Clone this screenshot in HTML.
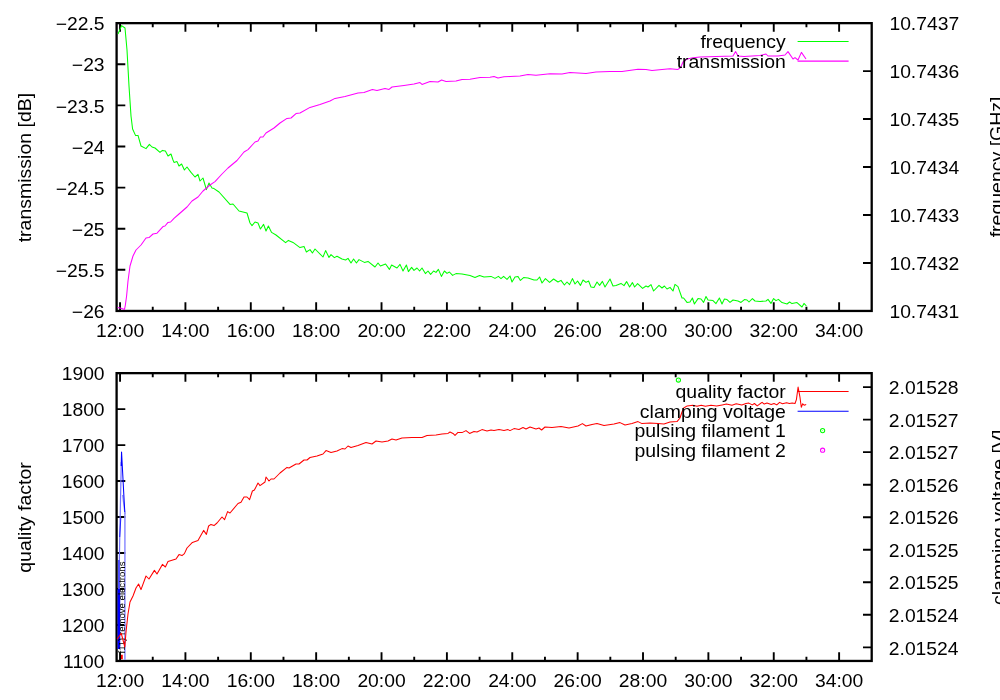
<!DOCTYPE html>
<html lang="en"><head><meta charset="utf-8"><title>resonator conditioning</title>
<style>html,body{margin:0;padding:0;background:#fff;}body{width:1000px;height:700px;overflow:hidden;}svg{display:block;will-change:transform;}text{font-family:"Liberation Sans", sans-serif;font-size:17.9px;fill:#000;}.b{fill:none;stroke:#000;stroke-width:2.30;stroke-linejoin:miter;}.t{stroke:#000;stroke-width:1.90;fill:none;}.d{fill:none;stroke-width:1.05;stroke-linejoin:round;stroke-linecap:butt;}.e{text-anchor:end;}.m{text-anchor:middle;}.r{font-size:19.5px;text-anchor:middle;}</style></head><body>
<svg width="1000" height="700" viewBox="0 0 1000 700">
<rect width="1000" height="700" fill="#fff"/>
<path class="t" d="M120.05,310.9v-8.7M120.05,23.15v8.7M185.42,310.9v-8.7M185.42,23.15v8.7M250.79,310.9v-8.7M250.79,23.15v8.7M316.16,310.9v-8.7M316.16,23.15v8.7M381.53,310.9v-8.7M381.53,23.15v8.7M446.90,310.9v-8.7M446.90,23.15v8.7M512.27,310.9v-8.7M512.27,23.15v8.7M577.64,310.9v-8.7M577.64,23.15v8.7M643.01,310.9v-8.7M643.01,23.15v8.7M708.38,310.9v-8.7M708.38,23.15v8.7M773.75,310.9v-8.7M773.75,23.15v8.7M839.12,310.9v-8.7M839.12,23.15v8.7M152.74,310.9v-4.2M152.74,23.15v4.2M218.11,310.9v-4.2M218.11,23.15v4.2M283.48,310.9v-4.2M283.48,23.15v4.2M348.85,310.9v-4.2M348.85,23.15v4.2M414.22,310.9v-4.2M414.22,23.15v4.2M479.59,310.9v-4.2M479.59,23.15v4.2M544.96,310.9v-4.2M544.96,23.15v4.2M610.33,310.9v-4.2M610.33,23.15v4.2M675.69,310.9v-4.2M675.69,23.15v4.2M741.07,310.9v-4.2M741.07,23.15v4.2M806.43,310.9v-4.2M806.43,23.15v4.2M116.6,23.15h8.7M116.6,64.26h8.7M116.6,105.36h8.7M116.6,146.47h8.7M116.6,187.58h8.7M116.6,228.69h8.7M116.6,269.79h8.7M116.6,310.90h8.7M871.7,23.15h-8.7M871.7,71.11h-8.7M871.7,119.07h-8.7M871.7,167.03h-8.7M871.7,214.98h-8.7M871.7,262.94h-8.7M871.7,310.90h-8.7"/>
<rect class="b" x="116.6" y="23.15" width="755.1" height="287.8"/>
<polyline class="d" stroke="#00ff00" points="118.0,34.0 121.6,25.6 125.0,28.0 127.0,50.0 129.0,86.0 131.0,116.0 132.6,129.0 135.6,135.6 138.0,135.4 141.0,146.0 146.0,148.6 149.4,144.4 152.0,147.0 155.0,148.0 160.0,152.4 162.4,150.4 165.4,151.0 168.0,156.0 171.0,154.0 173.0,160.0 174.0,162.4 177.0,161.6 179.0,166.0 181.6,164.0 184.4,170.0 187.0,167.0 191.0,172.4 195.0,177.0 198.0,174.4 200.0,181.0 203.0,178.0 206.4,189.6 209.0,183.0 212.0,188.0 214.0,188.6 219.0,192.0 230.0,204.4 233.0,204.0 239.0,211.0 247.0,213.0 250.0,223.0 252.0,225.6 255.0,222.0 258.0,223.0 260.4,229.0 263.6,224.4 266.0,231.0 268.4,226.0 271.6,232.4 276.0,235.0 285.6,242.6 288.4,240.4 293.0,242.4 300.0,247.6 304.0,246.4 306.4,252.0 310.0,249.6 312.4,253.0 315.0,249.0 323.0,257.0 325.6,250.6 329.0,257.4 331.0,254.6 334.4,257.6 337.0,256.2 342.0,259.0 345.6,260.0 348.0,258.4 351.0,263.0 353.6,259.0 356.4,263.0 359.0,259.6 364.4,262.4 368.0,261.4 375.0,267.0 378.0,263.0 380.4,266.0 385.6,264.0 389.4,269.4 391.6,265.0 397.0,268.0 400.0,264.4 403.0,271.0 406.4,265.0 408.4,271.6 411.6,267.4 414.0,270.4 417.0,268.0 419.6,271.0 422.0,268.0 425.4,273.6 428.0,271.0 430.6,274.4 433.6,271.0 436.0,272.4 438.4,269.4 441.4,276.4 444.4,271.0 447.0,273.4 449.4,272.0 452.6,275.4 456.0,273.6 462.0,274.0 470.0,275.6 475.0,277.6 479.6,275.6 484.0,277.0 491.0,276.4 495.0,278.4 498.4,276.4 501.0,278.6 503.6,276.4 507.0,279.4 510.0,276.0 512.0,282.0 515.0,277.0 518.0,276.4 520.4,280.4 523.6,277.6 528.0,278.0 534.0,280.0 537.0,280.0 539.6,277.0 542.0,283.0 545.4,278.6 549.6,282.4 553.6,279.0 558.0,282.0 561.0,280.4 564.4,285.0 567.0,282.0 569.6,284.6 572.4,278.6 575.0,284.0 577.6,281.0 580.4,285.4 583.0,280.0 586.0,282.4 588.6,281.0 591.0,287.0 594.0,287.4 597.0,282.0 599.6,285.4 602.4,281.4 605.0,287.0 610.0,279.0 613.0,286.0 616.0,285.6 621.0,283.4 624.0,285.6 626.6,281.6 629.6,287.0 632.4,282.6 634.6,287.0 637.6,283.6 642.6,288.4 646.0,286.0 648.0,287.0 651.0,284.6 653.6,291.0 659.0,285.4 662.0,288.0 664.4,286.0 667.0,289.0 670.0,287.4 673.0,291.0 675.0,284.4 678.0,286.6 682.0,298.0 683.6,298.0 687.0,302.4 690.0,302.0 692.4,298.0 694.4,304.0 698.0,298.6 701.0,299.0 703.6,302.4 706.0,296.5 708.0,300.0 713.0,300.6 716.0,303.6 719.4,298.0 722.0,304.0 724.4,299.0 727.0,299.6 730.0,302.4 733.0,300.0 738.0,301.0 741.0,302.4 744.4,299.6 747.0,300.0 749.0,302.0 752.4,298.6 755.0,301.0 760.0,301.4 766.0,301.0 768.0,299.4 771.0,303.4 773.6,298.6 776.0,300.6 778.4,299.4 782.0,302.6 787.0,304.0 789.6,302.0 792.0,303.6 797.0,302.6 802.0,307.0 804.0,303.4 806.4,306.0"/>
<polyline class="d" stroke="#ff00ff" points="117.6,307.4 121.0,308.3 124.5,309.4 125.3,305.5 126.6,296.0 128.0,281.0 130.0,266.0 133.0,256.0 136.0,250.0 141.0,245.0 146.0,238.0 149.0,237.6 153.0,234.0 157.0,233.2 163.0,226.6 165.0,226.0 168.0,222.4 170.6,222.0 174.0,218.4 179.0,214.0 187.0,207.0 192.0,201.0 198.0,197.0 203.0,191.0 210.0,185.0 215.0,181.6 222.0,174.0 228.0,168.0 237.0,160.5 244.0,152.0 248.0,149.6 255.0,142.0 258.0,141.0 260.4,137.0 263.0,137.0 266.0,133.0 274.0,128.0 280.0,123.0 287.0,118.4 291.0,118.0 296.0,113.6 300.0,113.0 310.0,107.4 320.0,104.4 330.0,101.0 335.0,98.4 345.0,96.4 358.0,93.0 364.0,92.4 372.4,89.6 377.0,90.6 385.0,88.6 389.0,89.4 392.0,87.0 404.0,85.4 414.0,84.0 420.0,82.6 422.0,84.4 430.0,81.4 438.0,82.0 441.6,80.0 446.0,81.4 456.0,81.0 462.0,79.4 470.0,79.2 480.0,77.4 490.0,77.2 494.0,76.4 498.0,78.0 504.0,76.8 510.0,76.5 520.0,76.0 528.0,74.4 536.0,75.2 550.0,73.8 562.0,74.0 570.0,72.4 586.0,73.4 596.0,72.0 610.0,71.6 622.0,71.4 638.0,69.2 646.0,69.4 652.0,70.6 662.0,69.6 670.0,68.8 678.0,69.4 680.0,68.0 681.5,65.5 683.0,62.0 687.0,59.0 693.0,57.8 700.0,57.0 733.0,56.0 735.6,51.6 738.0,56.0 744.0,56.6 760.0,55.6 766.0,54.0 768.0,56.0 778.0,56.0 785.0,55.0 788.0,51.6 793.0,59.0 795.0,57.6 798.0,60.0 801.4,52.4 806.0,59.0"/>
<text transform="translate(104.60,30.35) scale(1.0782,1)" text-anchor="end">−22.5</text>
<text transform="translate(104.60,71.46) scale(1.0782,1)" text-anchor="end">−23</text>
<text transform="translate(104.60,112.56) scale(1.0782,1)" text-anchor="end">−23.5</text>
<text transform="translate(104.60,153.67) scale(1.0782,1)" text-anchor="end">−24</text>
<text transform="translate(104.60,194.78) scale(1.0782,1)" text-anchor="end">−24.5</text>
<text transform="translate(104.60,235.89) scale(1.0782,1)" text-anchor="end">−25</text>
<text transform="translate(104.60,276.99) scale(1.0782,1)" text-anchor="end">−25.5</text>
<text transform="translate(104.60,318.10) scale(1.0782,1)" text-anchor="end">−26</text>
<text transform="translate(889.40,30.35) scale(1.0782,1)">10.7437</text>
<text transform="translate(889.40,78.31) scale(1.0782,1)">10.7436</text>
<text transform="translate(889.40,126.27) scale(1.0782,1)">10.7435</text>
<text transform="translate(889.40,174.22) scale(1.0782,1)">10.7434</text>
<text transform="translate(889.40,222.18) scale(1.0782,1)">10.7433</text>
<text transform="translate(889.40,270.14) scale(1.0782,1)">10.7432</text>
<text transform="translate(889.40,318.10) scale(1.0782,1)">10.7431</text>
<text transform="translate(120.05,336.60) scale(1.0782,1)" text-anchor="middle">12:00</text>
<text transform="translate(185.42,336.60) scale(1.0782,1)" text-anchor="middle">14:00</text>
<text transform="translate(250.79,336.60) scale(1.0782,1)" text-anchor="middle">16:00</text>
<text transform="translate(316.16,336.60) scale(1.0782,1)" text-anchor="middle">18:00</text>
<text transform="translate(381.53,336.60) scale(1.0782,1)" text-anchor="middle">20:00</text>
<text transform="translate(446.90,336.60) scale(1.0782,1)" text-anchor="middle">22:00</text>
<text transform="translate(512.27,336.60) scale(1.0782,1)" text-anchor="middle">24:00</text>
<text transform="translate(577.64,336.60) scale(1.0782,1)" text-anchor="middle">26:00</text>
<text transform="translate(643.01,336.60) scale(1.0782,1)" text-anchor="middle">28:00</text>
<text transform="translate(708.38,336.60) scale(1.0782,1)" text-anchor="middle">30:00</text>
<text transform="translate(773.75,336.60) scale(1.0782,1)" text-anchor="middle">32:00</text>
<text transform="translate(839.12,336.60) scale(1.0782,1)" text-anchor="middle">34:00</text>
<text transform="translate(31.20,167.60) rotate(-90) scale(1.0894,1)" text-anchor="middle">transmission [dB]</text>
<text transform="translate(1002.50,166.90) rotate(-90) scale(1.0894,1)" text-anchor="middle">frequency [GHz]</text>
<text transform="translate(785.80,48.20) scale(1.0866,1)" text-anchor="end">frequency</text>
<text transform="translate(785.80,68.00) scale(1.0866,1)" text-anchor="end">transmission</text>
<path class="d" stroke="#00ff00" d="M797.6,41.5H848.6"/>
<path class="d" stroke="#ff00ff" d="M797.6,61.1H848.6"/>
<path class="t" d="M120.05,660.9v-8.7M120.05,373.15v8.7M185.42,660.9v-8.7M185.42,373.15v8.7M250.79,660.9v-8.7M250.79,373.15v8.7M316.16,660.9v-8.7M316.16,373.15v8.7M381.53,660.9v-8.7M381.53,373.15v8.7M446.90,660.9v-8.7M446.90,373.15v8.7M512.27,660.9v-8.7M512.27,373.15v8.7M577.64,660.9v-8.7M577.64,373.15v8.7M643.01,660.9v-8.7M643.01,373.15v8.7M708.38,660.9v-8.7M708.38,373.15v8.7M773.75,660.9v-8.7M773.75,373.15v8.7M839.12,660.9v-8.7M839.12,373.15v8.7M152.74,660.9v-4.2M152.74,373.15v4.2M218.11,660.9v-4.2M218.11,373.15v4.2M283.48,660.9v-4.2M283.48,373.15v4.2M348.85,660.9v-4.2M348.85,373.15v4.2M414.22,660.9v-4.2M414.22,373.15v4.2M479.59,660.9v-4.2M479.59,373.15v4.2M544.96,660.9v-4.2M544.96,373.15v4.2M610.33,660.9v-4.2M610.33,373.15v4.2M675.69,660.9v-4.2M675.69,373.15v4.2M741.07,660.9v-4.2M741.07,373.15v4.2M806.43,660.9v-4.2M806.43,373.15v4.2M116.6,373.15h8.7M116.6,409.12h8.7M116.6,445.09h8.7M116.6,481.06h8.7M116.6,517.02h8.7M116.6,552.99h8.7M116.6,588.96h8.7M116.6,624.93h8.7M116.6,660.90h8.7M871.7,387.10h-8.7M871.7,419.63h-8.7M871.7,452.16h-8.7M871.7,484.69h-8.7M871.7,517.22h-8.7M871.7,549.75h-8.7M871.7,582.28h-8.7M871.7,614.81h-8.7M871.7,647.34h-8.7"/>
<rect class="b" x="116.6" y="373.15" width="755.1" height="287.8"/>
<path class="d" stroke="#8c8cff" style="stroke-width:1.5" d="M124.9,512V660"/>
<polyline class="d" stroke="#7070ff" style="stroke-width:1.2" points="121.3,462 120.5,500 119.7,540 118.9,590"/>
<polyline class="d" stroke="#8c8cff" style="stroke-width:1.2" points="122.6,495 125.0,514"/>
<path class="d" stroke="#2020ff" style="stroke-width:1.0" d="M120.8,518L119.7,537"/>
<path class="d" stroke="#5050ff" style="stroke-width:2.0" d="M119.0,560V590"/>
<path class="d" stroke="#0000ff" style="stroke-width:2.7" d="M118.9,589V649"/>
<polyline class="d" stroke="#0000ff" style="stroke-width:1.05" points="121.2,466 121.55,452 124.1,500 124.8,512"/>
<text transform="translate(124.7,653.5) rotate(-90) scale(1,0.85)" style="font-size:9.6px">f11) remove electrons</text>
<polyline class="d" stroke="#ff0000" points="117.1,639.3 121.2,633.2 124.8,647.0 126.0,632.0 128.0,614.0 130.0,602.0 133.0,596.0 136.0,588.0 138.6,584.0 141.0,589.6 146.0,576.0 149.0,579.0 154.4,570.4 157.0,574.0 162.4,564.4 165.4,567.0 168.0,561.6 176.0,559.0 179.0,554.6 182.0,555.6 184.4,553.6 187.0,548.0 192.4,542.4 198.0,540.4 203.6,530.4 206.4,534.4 208.6,526.0 211.0,524.4 214.0,525.6 217.0,523.0 222.0,517.0 224.6,519.6 227.6,511.6 230.0,513.0 238.0,503.5 241.0,502.2 244.0,497.0 247.0,497.0 249.6,499.6 252.4,491.0 254.4,490.0 258.0,483.0 260.0,485.6 265.0,482.0 266.0,477.0 269.0,481.0 271.0,479.0 274.0,479.0 280.0,473.0 287.0,467.4 289.0,468.0 296.0,464.0 299.0,464.0 304.0,460.0 307.0,460.0 310.0,457.5 317.0,456.0 323.0,454.0 326.0,450.6 331.0,452.4 337.0,451.0 342.0,448.6 345.0,449.0 348.0,446.0 351.0,447.4 358.0,445.4 366.0,442.6 372.0,444.0 376.0,441.0 382.0,442.0 388.0,441.0 392.0,439.0 396.0,440.0 402.0,438.0 412.0,437.4 422.0,437.4 427.0,435.4 436.0,435.0 442.0,434.0 448.0,433.4 450.0,432.0 453.0,433.4 455.0,435.4 458.0,432.4 462.0,432.6 466.0,430.6 469.6,433.4 474.0,431.4 477.0,432.0 482.0,429.6 487.0,431.0 491.0,430.0 494.0,430.6 499.0,429.6 504.0,430.4 508.0,429.6 510.0,430.6 514.0,428.6 519.0,429.4 523.0,427.6 526.0,429.0 530.0,427.0 536.0,429.0 539.0,428.0 541.6,430.0 545.0,427.0 552.0,427.6 561.0,426.4 569.0,428.0 578.0,426.0 582.4,423.6 586.0,426.0 592.0,424.4 597.0,423.6 604.0,425.4 614.0,424.0 620.0,422.6 625.0,425.0 632.0,423.4 638.0,421.6 642.0,423.6 650.0,423.0 658.0,423.6 664.0,424.0 670.0,422.0 677.0,421.6 680.0,418.0 681.8,412.5 683.7,408.0 687.2,405.9 692.8,405.2 697.0,406.3 701.2,405.2 705.4,406.3 711.0,405.2 716.6,405.9 722.2,404.9 726.4,404.1 732.0,405.2 736.2,403.8 741.8,404.9 746.0,403.5 748.8,403.1 752.3,404.9 754.4,403.5 757.2,405.9 760.0,403.8 762.1,402.4 764.2,404.1 767.0,403.1 771.2,404.5 774.0,403.5 776.8,404.9 779.6,402.4 782.4,403.8 786.6,402.7 789.4,403.5 792.2,403.1 795.0,403.5 796.4,399.6 798.1,387.0 799.9,396.8 801.3,407.3 802.7,403.8 804.1,405.2 806.2,404.5"/>
<path class="d" stroke="#ff0000" style="stroke-width:1.8" d="M121.9,654.7v4.6"/>
<text transform="translate(104.60,380.35) scale(1.0782,1)" text-anchor="end">1900</text>
<text transform="translate(104.60,416.32) scale(1.0782,1)" text-anchor="end">1800</text>
<text transform="translate(104.60,452.29) scale(1.0782,1)" text-anchor="end">1700</text>
<text transform="translate(104.60,488.26) scale(1.0782,1)" text-anchor="end">1600</text>
<text transform="translate(104.60,524.23) scale(1.0782,1)" text-anchor="end">1500</text>
<text transform="translate(104.60,560.19) scale(1.0782,1)" text-anchor="end">1400</text>
<text transform="translate(104.60,596.16) scale(1.0782,1)" text-anchor="end">1300</text>
<text transform="translate(104.60,632.13) scale(1.0782,1)" text-anchor="end">1200</text>
<text transform="translate(104.60,668.10) scale(1.0782,1)" text-anchor="end">1100</text>
<text transform="translate(888.80,394.30) scale(1.0782,1)">2.01528</text>
<text transform="translate(888.80,426.83) scale(1.0782,1)">2.01527</text>
<text transform="translate(888.80,459.36) scale(1.0782,1)">2.01527</text>
<text transform="translate(888.80,491.89) scale(1.0782,1)">2.01526</text>
<text transform="translate(888.80,524.42) scale(1.0782,1)">2.01526</text>
<text transform="translate(888.80,556.95) scale(1.0782,1)">2.01525</text>
<text transform="translate(888.80,589.48) scale(1.0782,1)">2.01525</text>
<text transform="translate(888.80,622.01) scale(1.0782,1)">2.01524</text>
<text transform="translate(888.80,654.54) scale(1.0782,1)">2.01524</text>
<text transform="translate(120.05,686.60) scale(1.0782,1)" text-anchor="middle">12:00</text>
<text transform="translate(185.42,686.60) scale(1.0782,1)" text-anchor="middle">14:00</text>
<text transform="translate(250.79,686.60) scale(1.0782,1)" text-anchor="middle">16:00</text>
<text transform="translate(316.16,686.60) scale(1.0782,1)" text-anchor="middle">18:00</text>
<text transform="translate(381.53,686.60) scale(1.0782,1)" text-anchor="middle">20:00</text>
<text transform="translate(446.90,686.60) scale(1.0782,1)" text-anchor="middle">22:00</text>
<text transform="translate(512.27,686.60) scale(1.0782,1)" text-anchor="middle">24:00</text>
<text transform="translate(577.64,686.60) scale(1.0782,1)" text-anchor="middle">26:00</text>
<text transform="translate(643.01,686.60) scale(1.0782,1)" text-anchor="middle">28:00</text>
<text transform="translate(708.38,686.60) scale(1.0782,1)" text-anchor="middle">30:00</text>
<text transform="translate(773.75,686.60) scale(1.0782,1)" text-anchor="middle">32:00</text>
<text transform="translate(839.12,686.60) scale(1.0782,1)" text-anchor="middle">34:00</text>
<text transform="translate(31.20,517.50) rotate(-90) scale(1.0894,1)" text-anchor="middle">quality factor</text>
<text transform="translate(1004.60,517.30) rotate(-90) scale(1.0894,1)" text-anchor="middle">clamping voltage [V]</text>
<text transform="translate(785.80,398.20) scale(1.0866,1)" text-anchor="end">quality factor</text>
<text transform="translate(785.80,417.80) scale(1.0866,1)" text-anchor="end">clamping voltage</text>
<text transform="translate(785.80,437.40) scale(1.0866,1)" text-anchor="end">pulsing filament 1</text>
<text transform="translate(785.80,457.00) scale(1.0866,1)" text-anchor="end">pulsing filament 2</text>
<path class="d" stroke="#ff0000" d="M797.6,391.4H848.6"/>
<path class="d" stroke="#0000ff" d="M797.6,411.2H848.6"/>
<circle cx="822.6" cy="430.6" r="2.1" fill="none" stroke="#00ff00" style="stroke-width:1.05"/><circle cx="822.6" cy="430.6" r="0.55" fill="#00ff00" fill-opacity="0.55"/>
<circle cx="822.6" cy="450.2" r="2.1" fill="none" stroke="#ff00ff" style="stroke-width:1.05"/><circle cx="822.6" cy="450.2" r="0.55" fill="#ff00ff" fill-opacity="0.55"/>
<circle cx="678.4" cy="380" r="2.1" fill="none" stroke="#00ff00" style="stroke-width:1.05"/><circle cx="678.4" cy="380" r="0.55" fill="#00ff00" fill-opacity="0.55"/>
</svg></body></html>
